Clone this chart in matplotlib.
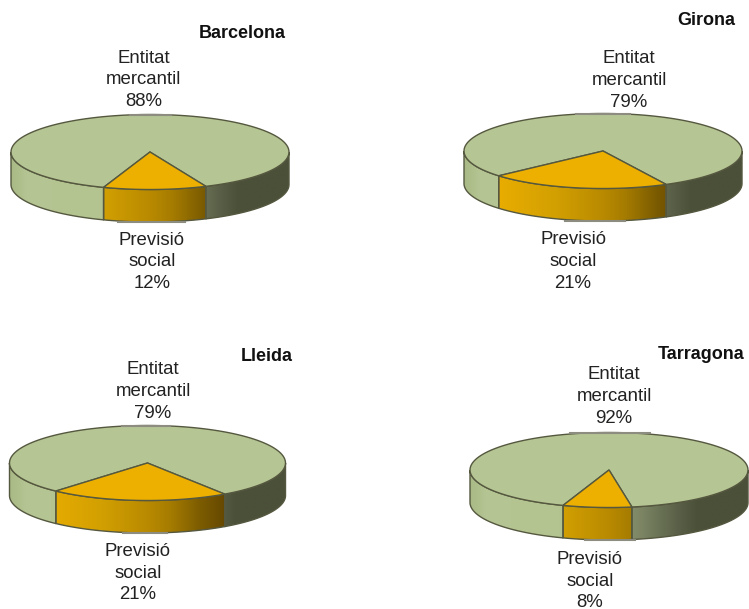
import numpy as np
import matplotlib
matplotlib.use('Agg')
import matplotlib.pyplot as plt
from matplotlib.colors import LinearSegmentedColormap
from matplotlib.patches import Polygon

# Datos
provincies = ['Barcelona', 'Girona', 'Lleida', 'Tarragona']
entitat_mercantil = [88, 79, 79, 92]
previsio_social = [12, 21, 21, 8]

# Posicion de cada pastel, en pixeles de la figura
centres = [(150, 152), (603, 151), (147.5, 463), (609, 470)]
radis = [139, 139, 138, 139]
rotacions = [23.7, 27, 34, 9.5]
pos_titol = [(285.5, 33.5), (735, 20.5), (293, 356.5), (744, 354.5)]
pos_entitat = [(143.5, 80), (629, 80.5), (153, 391.5), (614, 396.5)]
pos_previsio = [(152, 262), (573, 261.5), (138, 573), (590, 581)]
# restos grises del contorno, arriba y abajo de cada pastel
gris_dalt = [(130, 171), (576, 630), (122, 170), (570, 650)]
gris_baix = [(118, 185), (565, 625), (123, 167), (585, 635)]

RY, GRUIX = 37.5, 32.5
VERD, TARONJA = '#b5c593', '#eeb000'
VORA = '#55583f'

plt.rcParams['font.family'] = ['Liberation Sans', 'DejaVu Sans']

cmap_verd = LinearSegmentedColormap.from_list('verd', [
    (0.0, '#a9ba86'), (0.06, '#b5c593'), (0.32, '#b3c490'),
    (0.58, '#858e6b'), (0.70, '#666e52'), (0.75, '#5a6047'),
    (0.82, '#4b5039'), (1.0, '#4b5039')])
cmap_taronja = LinearSegmentedColormap.from_list('taronja', [
    (0.0, '#ecae00'), (0.1, '#ecae00'), (0.33, '#d2a002'), (0.5, '#b98a00'),
    (0.58, '#a67c00'), (0.69, '#7c5c00'), (0.78, '#664800'), (1.0, '#553c00')])

fig = plt.figure(figsize=(7.49, 6.09), dpi=100)
ax = fig.add_axes([0, 0, 1, 1])
ax.set_xlim(0, 749)
ax.set_ylim(609, 0)
ax.axis('off')


def punts(c, rx, a0, a1):
    # angle en graus mesurat des de la part de baix del pastel
    a = np.radians(np.linspace(a0, a1, 120))
    return np.column_stack([c[0] + rx * np.sin(a), c[1] + RY * np.cos(a)])


def costat(c, rx, a0, a1, cmap):
    # cara lateral amb el degradat horitzontal
    dalt = punts(c, rx, a0, a1)
    baix = dalt[::-1] + [0, GRUIX]
    pol = Polygon(np.vstack([dalt, baix]), closed=True, fc='none', ec=VORA, lw=1, zorder=3)
    ax.add_patch(pol)
    grad = np.linspace(0, 1, 256).reshape(1, -1)
    im = ax.imshow(grad, cmap=cmap, aspect='auto', zorder=2, vmin=0, vmax=1,
                   extent=(c[0] - rx, c[0] + rx, c[1] + RY + GRUIX, c[1] - RY))
    im.set_clip_path(pol)


for i, nom in enumerate(provincies):
    c = centres[i]
    rx = radis[i]
    rot = rotacions[i]
    final = rot - 360 * previsio_social[i] / 100

    costat(c, rx, 90, rot, cmap_verd)
    costat(c, rx, final, -90, cmap_verd)
    costat(c, rx, rot, final, cmap_taronja)

    tapa_verda = np.vstack([[c], punts(c, rx, rot, rot + 360 * entitat_mercantil[i] / 100)])
    tapa_taronja = np.vstack([[c], punts(c, rx, final, rot)])
    ax.add_patch(Polygon(tapa_verda, closed=True, fc=VERD, ec=VORA, lw=1, zorder=4))
    ax.add_patch(Polygon(tapa_taronja, closed=True, fc=TARONJA, ec=VORA, lw=1, zorder=5))

    y_dalt = c[1] - RY
    y_baix = c[1] + RY + GRUIX
    ax.plot(gris_dalt[i], [y_dalt, y_dalt], color='#8c8c80', lw=1.5, zorder=6)
    ax.plot(gris_baix[i], [y_baix, y_baix], color='#8c8c80', lw=1.5, zorder=6)

    ax.text(pos_titol[i][0], pos_titol[i][1], nom, ha='right', va='center',
            fontsize=13, fontweight='bold', color='#111111')
    ax.text(pos_entitat[i][0], pos_entitat[i][1],
            'Entitat\nmercantil\n%d%%' % entitat_mercantil[i],
            ha='center', va='center', fontsize=13.4, linespacing=1.37, color='#222222')
    ax.text(pos_previsio[i][0], pos_previsio[i][1],
            'Previsió\nsocial\n%d%%' % previsio_social[i],
            ha='center', va='center', fontsize=13.4, linespacing=1.37, color='#222222')

ax.set_xlim(0, 749)
ax.set_ylim(609, 0)
fig.savefig('out.png', dpi=100)
